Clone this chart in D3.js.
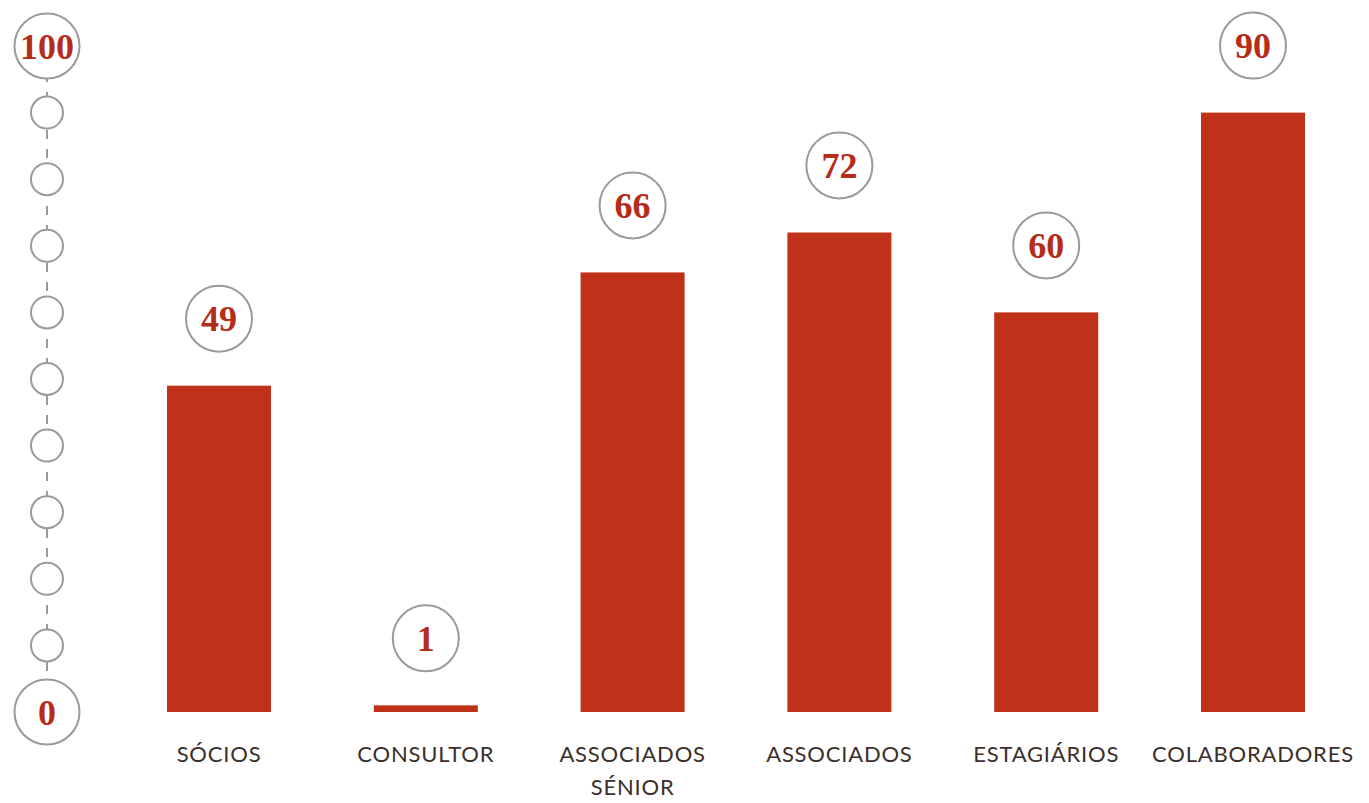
<!DOCTYPE html>
<html>
<head>
<meta charset="utf-8">
<script src="https://cdn.jsdelivr.net/npm/d3@7"></script>
<style>
  html, body { margin: 0; padding: 0; background: #fff; }
  svg { display: block; }
</style>
</head>
<body>
<svg id="chart" width="1369" height="803"></svg>
<script>
const categories = [["SÓCIOS"], ["CONSULTOR"], ["ASSOCIADOS", "SÉNIOR"], ["ASSOCIADOS"], ["ESTAGIÁRIOS"], ["COLABORADORES"]];
const values = [49, 1, 66, 72, 60, 90];
const axisTicks = [0, 10, 20, 30, 40, 50, 60, 70, 80, 90, 100];
const axisLabels = ["0", "100"];

const W = 1369, H = 803;
const red = "#bf3119";
const textRed = "#b52d1a";
const grey = "#9a9a9a";
const labelColor = "#3b2f2a";
const numFont = "'Liberation Serif', 'DejaVu Serif', serif";
const catFont = "Lato, 'Open Sans', sans-serif";

const svg = d3.select("#chart");

const y = d3.scaleLinear().domain([0, 100]).range([712, 46]);
const idx = categories.map((c, i) => i);
const x = d3.scaleBand().domain(idx).range([115.6, 1356.4]).paddingInner(0.497).paddingOuter(0.2485);

// Axis: dashed line + circles
const axisX = 47;
const ax = svg.append("g");
ax.append("line")
  .attr("x1", axisX).attr("x2", axisX)
  .attr("y1", y(100)).attr("y2", y(0))
  .attr("stroke", grey).attr("stroke-width", 2)
  .attr("stroke-dasharray", "9 10").attr("stroke-dashoffset", 11);

ax.selectAll("circle.tick").data(axisTicks).join("circle")
  .attr("class", "tick")
  .attr("cx", axisX).attr("cy", d => y(d))
  .attr("r", d => (d === 0 || d === 100) ? 32.5 : 16)
  .attr("fill", "#fff").attr("stroke", grey).attr("stroke-width", 2);

ax.selectAll("text.tick").data(axisTicks.filter(d => axisLabels.includes(String(d)))).join("text")
  .attr("class", "tick")
  .attr("x", axisX).attr("y", d => y(d))
  .attr("dy", "0.35em")
  .attr("text-anchor", "middle")
  .attr("font-family", numFont).attr("font-weight", "bold")
  .attr("font-size", 36).attr("fill", textRed)
  .text(d => String(d));

// Bars
svg.append("g").selectAll("rect").data(values).join("rect")
  .attr("x", (d, i) => x(i))
  .attr("width", x.bandwidth())
  .attr("y", d => y(d))
  .attr("height", d => y(0) - y(d))
  .attr("fill", red);

// Value badges
const badge = svg.append("g").selectAll("g").data(values).join("g")
  .attr("transform", (d, i) => `translate(${x(i) + x.bandwidth() / 2},${y(d) - 67})`);
badge.append("circle").attr("r", 33)
  .attr("fill", "#fff").attr("stroke", grey).attr("stroke-width", 2);
badge.append("text")
  .attr("dy", "0.35em").attr("text-anchor", "middle")
  .attr("font-family", numFont).attr("font-weight", "bold")
  .attr("font-size", 36).attr("fill", textRed)
  .text(d => d);

// Category labels
const cat = svg.append("g").selectAll("text").data(categories).join("text")
  .attr("x", (d, i) => x(i) + x.bandwidth() / 2)
  .attr("y", 762)
  .attr("text-anchor", "middle")
  .attr("font-family", catFont)
  .attr("font-size", 22)
  .attr("letter-spacing", 0.8)
  .attr("fill", labelColor);
cat.selectAll("tspan").data(d => d).join("tspan")
  .attr("x", function() { return d3.select(this.parentNode).attr("x"); })
  .attr("dy", (d, j) => j === 0 ? 0 : 33)
  .text(d => d);
</script>
</body>
</html>
